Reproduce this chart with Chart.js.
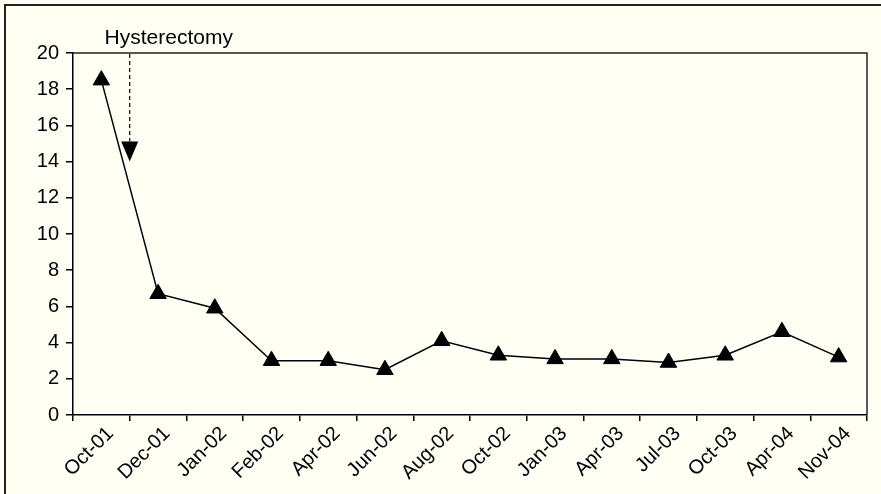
<!DOCTYPE html>
<html><head><meta charset="utf-8">
<script src="https://cdn.jsdelivr.net/npm/chart.js@4/dist/chart.umd.min.js"></script>
<style>
html,body{margin:0;padding:0;background:#FFFFF3;overflow:hidden;}
#frame{position:absolute;left:4px;top:4px;width:900px;height:600px;border-top:2px solid #222;border-left:2px solid #222;}
#wrap{position:absolute;left:0;top:0;width:881px;height:494px;}
</style></head><body>
<div id="frame"></div>
<div id="wrap"><canvas id="c" width="881" height="494"></canvas></div>
<script>
const categories = ['Oct-01','Dec-01','Jan-02','Feb-02','Apr-02','Jun-02','Aug-02','Oct-02','Jan-03','Apr-03','Jul-03','Oct-03','Apr-04','Nov-04'];
const values = [18.5, 6.7, 5.9, 3.0, 3.0, 2.5, 4.1, 3.3, 3.1, 3.1, 2.9, 3.3, 4.6, 3.2];
const yMin = 0, yMax = 20, yStep = 2;
const annotationText = 'Hysterectomy';
const annotationIndex = 0.5;   // between Oct-01 and Dec-01
const annotationTip = 14;      // arrow tip value

const FONT = '"Liberation Sans", Arial, Helvetica, sans-serif';

const decor = {
  id: 'decor',
  afterDraw(chart) {
    const {ctx, chartArea: a, scales: {x, y}} = chart;
    ctx.save();
    ctx.strokeStyle = '#222';
    ctx.lineWidth = 1.5;
    ctx.beginPath();
    ctx.moveTo(a.left, a.top);
    ctx.lineTo(a.right, a.top);
    ctx.lineTo(a.right, a.bottom);
    ctx.stroke();
    const ax = x.getPixelForValue(annotationIndex);
    const tipY = y.getPixelForValue(annotationTip);
    const headH = 20;
    ctx.strokeStyle = '#000';
    ctx.lineWidth = 1.2;
    ctx.setLineDash([4, 3]);
    ctx.beginPath();
    ctx.moveTo(ax, a.top + 1);
    ctx.lineTo(ax, tipY - headH);
    ctx.stroke();
    ctx.setLineDash([]);
    ctx.fillStyle = '#000';
    ctx.beginPath();
    ctx.moveTo(ax - 8.5, tipY - headH);
    ctx.lineTo(ax + 8.5, tipY - headH);
    ctx.lineTo(ax, tipY);
    ctx.closePath();
    ctx.fill();
    ctx.font = '21px ' + FONT;
    ctx.fillStyle = '#000';
    ctx.textAlign = 'center';
    ctx.textBaseline = 'alphabetic';
    ctx.fillText(annotationText, ax + 39, a.top - 9);
    ctx.restore();
  }
};

new Chart(document.getElementById('c'), {
  type: 'line',
  data: {
    labels: categories,
    datasets: [{
      data: values,
      borderColor: '#000',
      borderWidth: 1.5,
      backgroundColor: '#000',
      pointStyle: 'triangle',
      pointRadius: 9.5,
      pointHoverRadius: 9.5,
      pointBorderWidth: 1,
      pointBackgroundColor: '#000',
      pointBorderColor: '#000',
      tension: 0,
      fill: false
    }]
  },
  options: {
    responsive: false,
    animation: false,
    events: [],
    layout: {padding: {left: 0, top: 53, right: 14, bottom: 0}},
    plugins: {legend: {display: false}, tooltip: {enabled: false}},
    scales: {
      x: {
        type: 'category',
        offset: true,
        grid: {display: true, drawOnChartArea: false, drawTicks: true, tickLength: 6, offset: true, color: '#000', lineWidth: 1.5},
        border: {display: true, color: '#000', width: 1.5},
        ticks: {color: '#000', font: {family: FONT, size: 20}, maxRotation: 45, minRotation: 45, autoSkip: false, padding: 1, labelOffset: 9},
        afterFit(s) { s.height = 79; }
      },
      y: {
        min: yMin, max: yMax,
        grid: {display: true, drawOnChartArea: false, drawTicks: true, tickLength: 7, color: '#000', lineWidth: 1.5},
        border: {display: true, color: '#000', width: 1.5},
        ticks: {stepSize: yStep, color: '#000', font: {family: FONT, size: 20}, padding: 7},
        afterFit(s) { s.width = 73; }
      }
    }
  },
  plugins: [decor]
});
</script>
</body></html>
